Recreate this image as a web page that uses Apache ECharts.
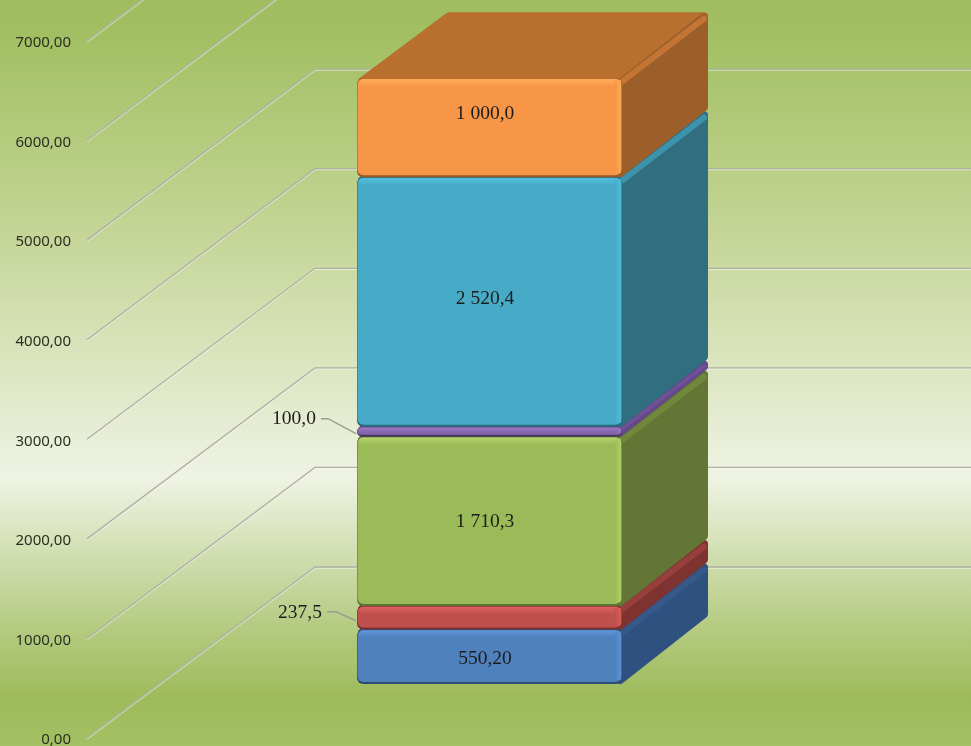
<!DOCTYPE html>
<html><head><meta charset="utf-8">
<style>html,body{margin:0;padding:0;background:#fff}#c{width:971px;height:746px}</style>
<script src="https://cdn.jsdelivr.net/npm/echarts@6/dist/echarts.min.js"></script>
</head><body><div id="c"></div>
<script>
const categories = ['Total'];
const seriesNames = ['A','B','C','D','E','F'];
const seriesValues = [550.2, 237.5, 1710.3, 100, 2520.4, 1000];
const valueLabels = ['550,20','237,5','1 710,3','100,0','2 520,4','1 000,0'];
const axisTicks = [0,1000,2000,3000,4000,5000,6000,7000];

const palette = [
 {f:'#4f81bd',hi:'#5f97dc',s:'#2f5180',sh:'#37598a',d:'#2f4d72',t:'#2f5180'},
 {f:'#c0504d',hi:'#de605c',s:'#7e3331',sh:'#963f3c',d:'#78322f',t:'#7e3331'},
 {f:'#9bbb59',hi:'#b2d768',s:'#637635',sh:'#71883c',d:'#5f7236',t:'#637635'},
 {f:'#8566ac',hi:'#9a78c4',s:'#63498a',sh:'#6f5296',d:'#44345e',t:'#63498a'},
 {f:'#47abc8',hi:'#52c0df',s:'#306e80',sh:'#3d93ac',d:'#2b6b7d',t:'#306e80'},
 {f:'#f79646',hi:'#ffae5a',s:'#9d5f2a',sh:'#c47534',d:'#96592a',t:'#b9702f'}
];
const DEPTH_X = 86, DEPTH_Y = -66, FLOOR_LIFT = 54, FRONT_SCALE = 0.9945;
const WALL_X = 228, WALL_Y = -171;

function segmentRender(i){
  return function(params, api){
    const zero = api.coord([0, 0]);
    const size = api.size([1, 0]);
    const cx = zero[0], w = size[0] * 0.3292;
    const x0 = cx - w/2, x1 = cx + w/2;
    const fy = v => zero[1] - FLOOR_LIFT - (zero[1] - api.coord([0, v])[1]) * FRONT_SCALE;
    const bot = fy(api.value(1)), top = fy(api.value(2));
    const c = palette[i];
    const h = bot - top;
    const kids = [];
    // top face
    kids.push({type:'polygon',shape:{points:[[x0+5,top+3],[x0+DEPTH_X+6,top+DEPTH_Y+4],[x1+DEPTH_X-4,top+DEPTH_Y+4],[x1-2,top+3]]},
      style:{fill:c.t,stroke:c.t,lineWidth:8,lineJoin:'round'}});
    // side face
    const sw = Math.min(8, h*0.8), q = sw/2;
    kids.push({type:'polygon',shape:{points:[[x1-2,top+q+1],[x1+DEPTH_X-q,top+DEPTH_Y+q+1],[x1+DEPTH_X-q,bot+DEPTH_Y-q],[x1-2,bot-q]]},
      style:{fill:c.s,stroke:c.s,lineWidth:sw,lineJoin:'round'}});
    const hl = Math.min(6, h*0.35);
    const endX = DEPTH_X - 4;
    kids.push({type:'polyline',shape:{points:[[x1,top+hl/2+0.5],[x1+endX,top+DEPTH_Y*endX/DEPTH_X+hl/2+0.5]]},
      style:{fill:null,stroke:c.sh,lineWidth:hl,lineCap:'round'}});
    // front face
    const r = Math.min(6, h/2);
    kids.push({type:'rect',shape:{x:x0,y:top,width:w,height:h,r:r},style:{fill:c.d}});
    kids.push({type:'rect',shape:{x:x0+0.5,y:top+0.5,width:w-1,height:Math.max(h-2.5,1),r:r},style:{fill:c.f}});
    const band = Math.min(7, h*0.45);
    kids.push({type:'rect',shape:{x:x0+2,y:top+1,width:w-4,height:band,r:r},
      style:{fill:new echarts.graphic.LinearGradient(0,0,0,1,[{offset:0,color:c.hi},{offset:1,color:c.f}])}});
    kids.push({type:'rect',shape:{x:x1-7,y:top+2,width:6,height:Math.max(h-6,1)},
      style:{fill:new echarts.graphic.LinearGradient(0,0,1,0,[{offset:0,color:c.f},{offset:1,color:c.hi}]),opacity:0.8}});
    // labels
    const txt = valueLabels[i];
    if (h > 30) {
      const shift = i === 5 ? -14 : (i === 0 ? 2 : (i === 4 ? -3 : 1));
      kids.push({type:'text',style:{text:txt,x:cx-4.5,y:(top+bot)/2+shift,fill:'#1c1c1c',
        font:'19.5px "Liberation Serif"',align:'center',verticalAlign:'middle'}});
    } else {
      const my = (top+bot)/2;
      const small = i === 3;
      const p = small
        ? [[x0-36,my-13],[x0-29,my-13],[x0-1,my+2]]
        : [[x0-30,my-6],[x0-21,my-6],[x0-1,my+3]];
      kids.push({type:'polyline',shape:{points:p},style:{fill:null,stroke:'#9a9d92',lineWidth:1.4}});
      kids.push({type:'text',style:{text:txt,x:p[0][0]-5,y:p[0][1]+(small?0:1),fill:'#1c1c1c',
        font:'19.5px "Liberation Serif"',align:'right',verticalAlign:'middle'}});
    }
    return {type:'group',children:kids};
  };
}
function wallRender(params, api){
  const p = api.coord([0, api.value(1)]);
  const x0 = params.coordSys.x;
  const y = p[1];
  return {type:'polyline',shape:{points:[[x0,y],[x0+WALL_X,y+WALL_Y],[971,y+WALL_Y]]},
    style:{fill:null,stroke:'#adb0a3',lineWidth:1.3,shadowColor:'rgba(255,255,255,0.6)',shadowOffsetY:1,shadowBlur:1}};
}

let acc = 0;
const segs = seriesValues.map((v,i)=>{
  const s = {name:seriesNames[i],type:'custom',renderItem:segmentRender(i),
    encode:{x:0,y:[1,2]},z:5+i,clip:false,data:[[0,acc,acc+v]]};
  acc += v; return s;
});

const chart = echarts.init(document.getElementById('c'),null,{renderer:'canvas'});
chart.setOption({
  animation:false,
  backgroundColor:new echarts.graphic.LinearGradient(0,0,0,1,[
    {offset:0,color:'#9fbd5f'},{offset:0.05,color:'#a2c063'},
    {offset:0.30,color:'#c3d494'},{offset:0.64,color:'#eff3e3'},
    {offset:0.84,color:'#b5cb82'},{offset:0.935,color:'#9ebb5b'},{offset:1,color:'#a3c064'}]),
  grid:{left:87,right:79,top:41,bottom:8,containLabel:false,outerBoundsMode:'none'},
  xAxis:{type:'category',data:categories,show:false},
  yAxis:{type:'value',min:0,max:7000,interval:1000,
    axisLine:{show:false},axisTick:{show:false},splitLine:{show:false},
    axisLabel:{margin:16,formatter:v=>'{t|'+v.toFixed(2).replace('.',',')+'}',
      rich:{t:{color:'#2b2f22',fontFamily:'"Noto Sans"',fontSize:15,padding:[4,0,0,0]}}}},
  series:[{type:'custom',name:'walls',renderItem:wallRender,encode:{x:0,y:1},z:1,clip:false,
    data:axisTicks.map(t=>[0,t])}].concat(segs)
});
</script></body></html>
